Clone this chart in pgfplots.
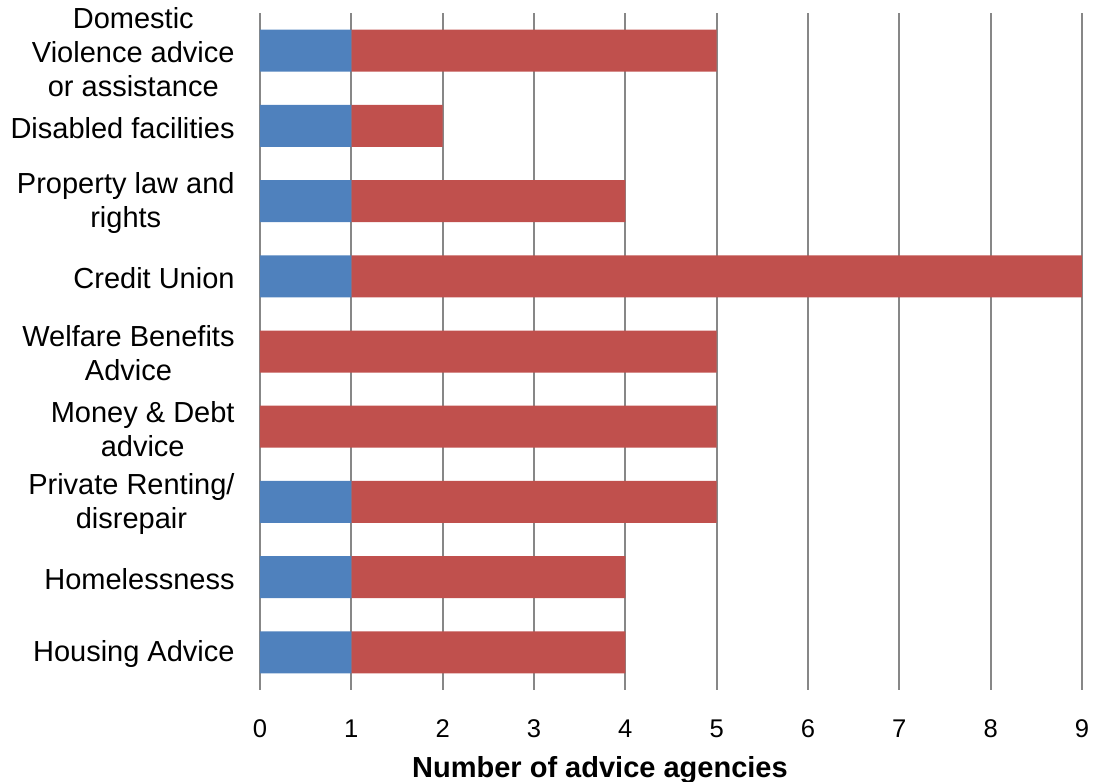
\documentclass[border=0pt]{standalone}
\usepackage{fontspec}
\setmainfont{Liberation Sans}
\usepackage{pgfplots}
\pgfplotsset{compat=1.18}
\definecolor{cblue}{HTML}{4F81BD}
\definecolor{cred}{HTML}{C0504D}
\definecolor{cgrid}{HTML}{878787}
\begin{document}
\begin{tikzpicture}
\useasboundingbox (-130pt,-46pt) rectangle (417pt,345pt);
\begin{axis}[
  at={(0pt,0pt)}, anchor=south west,
  scale only axis,
  width=411pt, height=338.5pt,
  xbar stacked,
  bar width=21pt,
  xmin=0, xmax=9,
  ymin=-0.5, ymax=8.5,
  xtick={0,1,...,9},
  ytick={0,1,...,8},
  yticklabels={
    {Housing Advice},
    {Homelessness},
    {Private Renting/\\disrepair},
    {Money \& Debt\\advice},
    {Welfare Benefits\\Advice},
    {Credit Union},
    {Property law and\\rights},
    {Disabled facilities},
    {Domestic\\Violence advice\\or assistance}},
  major tick length=0pt,
  axis line style={draw=none},
  xmajorgrids,
  grid style={cgrid, line width=1pt},
  xticklabel style={anchor=base, yshift=-23.5pt, font=\fontsize{12.8}{15}\selectfont},
  /pgf/number format/assume math mode=true,
  yticklabel style={anchor=east, align=center, inner sep=0pt, xshift=-12.5pt, yshift=-1pt, font=\fontsize{14.5}{17}\selectfont},
  xlabel={\textbf{Number of advice agencies}},
  xlabel style={at={(axis description cs:0.4136,0)}, anchor=base, yshift=-44pt, font=\fontsize{14.5}{17}\selectfont},
]
\addplot[fill=cblue, draw=none] coordinates {(1,0) (1,1) (1,2) (0,3) (0,4) (1,5) (1,6) (1,7) (1,8)};
\addplot[fill=cred, draw=none] coordinates {(3,0) (3,1) (4,2) (5,3) (5,4) (8,5) (3,6) (1,7) (4,8)};
\end{axis}
\end{tikzpicture}
\end{document}
